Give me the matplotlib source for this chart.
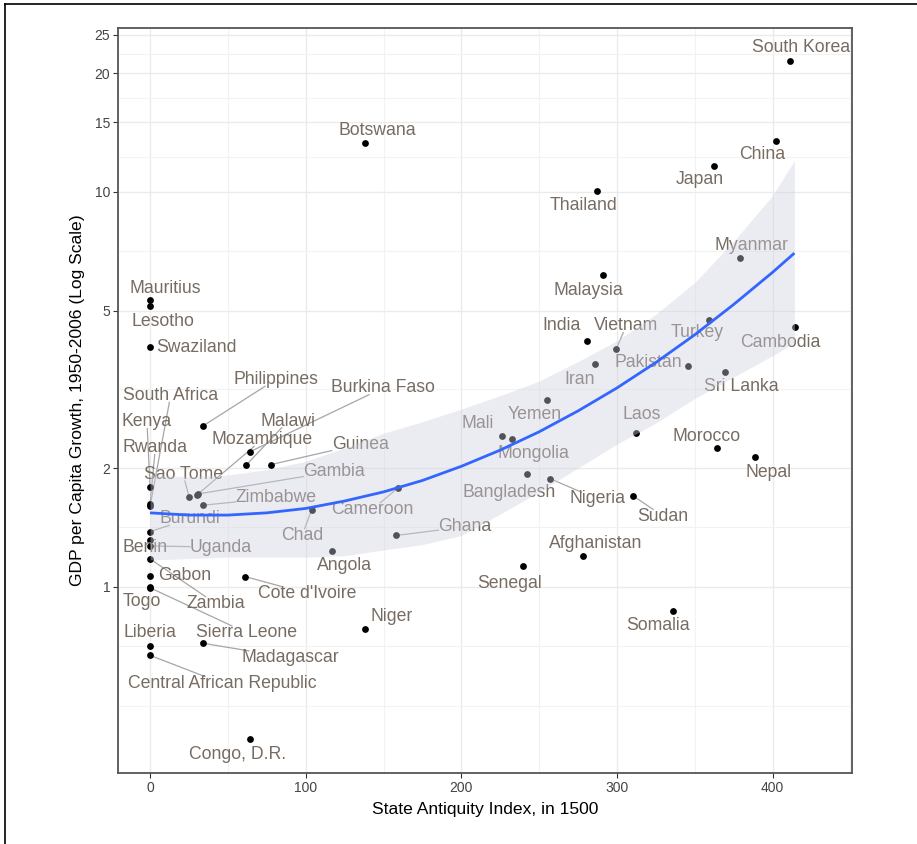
import matplotlib
matplotlib.use("Agg")
import matplotlib.pyplot as plt
from matplotlib.lines import Line2D

# State antiquity vs growth, one row per country
COUNTRIES = [
    "South Korea", "China", "Japan", "Thailand", "Botswana", "Myanmar", "Malaysia",
    "Mauritius", "Lesotho", "Swaziland", "India", "Vietnam", "Turkey", "Cambodia",
    "Iran", "Pakistan", "Sri Lanka", "Yemen", "Laos", "Mali", "Mongolia", "Morocco",
    "Nepal", "Bangladesh", "Nigeria", "Sudan", "Cameroon", "Ghana", "Chad", "Angola",
    "Afghanistan", "Senegal", "Somalia", "Niger", "Congo, D.R.", "Cote d'Ivoire",
    "Madagascar", "Sierra Leone", "Liberia", "Central African Republic", "Togo",
    "Zambia", "Gabon", "Benin", "Uganda", "Burundi", "Kenya", "Rwanda", "South Africa",
    "Sao Tome", "Zimbabwe", "Gambia", "Guinea", "Mozambique", "Malawi", "Burkina Faso",
    "Philippines",
]
SAI = [
    411.3, 402.3, 362.5, 287.3, 138.2, 379.2, 291.1,
    0.0, 0.0, 0.0, 280.8, 299.5, 359.3, 414.5,
    286.0, 345.8, 369.5, 255.1, 312.3, 226.0, 232.5, 364.4,
    388.8, 242.3, 256.9, 310.4, 159.2, 158.3, 103.9, 116.8,
    278.3, 239.9, 335.9, 138.2, 64.5, 61.2,
    34.1, 0.0, 0.0, 0.0, 0.0,
    0.0, 0.0, 0.0, 0.0, 0.0, 0.0, 0.0, 0.0,
    25.1, 33.9, 31.0, 77.6, 30.2, 61.5, 64.3,
    34.3,
]
GROWTH = [
    21.5, 13.46, 11.64, 10.06, 13.3, 6.81, 6.16,
    5.33, 5.14, 4.06, 4.20, 4.00, 4.74, 4.55,
    3.67, 3.63, 3.50, 2.97, 2.45, 2.41, 2.37, 2.25,
    2.13, 1.93, 1.88, 1.70, 1.78, 1.35, 1.57, 1.23,
    1.20, 1.13, 0.871, 0.783, 0.412, 1.062,
    0.720, 0.995, 0.710, 0.671, 1.00,
    1.177, 1.066, 1.315, 1.27, 1.38, 1.79, 1.62, 1.60,
    1.69, 1.61, 1.72, 2.04, 1.71, 2.03, 2.20,
    2.56,
]
LABEL_X = [
    418.4, 393.3, 353.5, 278.3, 145.9, 386.2, 281.5,
    9.6, 8.5, 30.0, 264.1, 305.9, 351.5, 404.9,
    276.3, 320.1, 379.8, 247.4, 315.6, 210.8, 246.1, 357.3,
    397.2, 230.7, 287.3, 329.7, 142.7, 202.4, 97.7, 124.7,
    286.6, 230.7, 326.5, 154.9, 55.9, 100.7,
    89.9, 61.9, -0.4, 46.6, -5.1,
    42.1, 22.2, -3.2, 45.6, 25.5, -2.0, 3.4, 13.2,
    21.2, 80.9, 118.4, 135.0, 72.0, 88.7, 149.8,
    80.7,
]
LABEL_Y = [
    23.15, 12.41, 10.72, 9.22, 14.27, 7.30, 5.62,
    5.71, 4.69, 4.03, 4.58, 4.58, 4.40, 4.15,
    3.36, 3.71, 3.21, 2.74, 2.74, 2.60, 2.18, 2.41,
    1.95, 1.73, 1.67, 1.51, 1.57, 1.42, 1.35, 1.13,
    1.29, 1.02, 0.80, 0.84, 0.376, 0.963,
    0.662, 0.766, 0.766, 0.570, 0.921,
    0.908, 1.07, 1.26, 1.26, 1.49, 2.62, 2.25, 3.05,
    1.93, 1.68, 1.96, 2.30, 2.36, 2.63, 3.19,
    3.35,
]
# labels that get a leader line back to their point
LEADER = {
    "Philippines", "Burkina Faso", "Malawi", "Mozambique", "Guinea", "Gambia",
    "Zimbabwe", "Sao Tome", "Burundi", "Uganda", "Kenya", "Rwanda", "South Africa",
    "Chad", "Cameroon", "Ghana", "Nigeria", "Sudan", "Vietnam", "Cote d'Ivoire",
    "Madagascar", "Sierra Leone", "Zambia", "Central African Republic",
}

# smoothed trend and its confidence band
FIT_X = [0, 25, 50, 75, 100, 125, 150, 175, 200, 225, 250, 275, 300, 325, 350, 375, 400, 414]
FIT_MID = [1.54, 1.52, 1.52, 1.54, 1.58, 1.65, 1.74, 1.86, 2.02, 2.22, 2.47, 2.79, 3.19,
           3.70, 4.35, 5.19, 6.26, 7.00]
FIT_HI = [1.92, 1.90, 1.92, 1.98, 2.08, 2.25, 2.45, 2.62, 2.82, 3.05, 3.32, 3.72, 4.20,
          4.90, 5.90, 7.50, 9.80, 12.0]
FIT_LO = [1.17, 1.18, 1.19, 1.19, 1.19, 1.20, 1.24, 1.28, 1.35, 1.53, 1.74, 2.00, 2.30,
          2.60, 3.00, 3.40, 3.85, 4.15]

X_TICKS = [0, 100, 200, 300, 400]
X_MINOR = [-50, 50, 150, 250, 350, 450]
Y_TICKS = [1, 2, 5, 10, 15, 20, 25]
Y_MINOR = [0.5, 0.7071, 1.4142, 3.1623, 7.0711, 12.247, 17.321, 22.361]

FONT = ["Liberation Sans", "DejaVu Sans"]
LABEL_COLOR = "#776c62"

fig = plt.figure(figsize=(9.17, 8.44), dpi=100)
ax = fig.add_axes([118 / 917, 1 - 773 / 844, (852 - 118) / 917, (773 - 28) / 844])
ax.set_yscale("log")
ax.set_xlim(-20.6, 451)
ax.set_ylim(0.338, 26.0)

for v in X_TICKS:
    ax.axvline(v, color="#ebebeb", lw=1.0, zorder=0)
for v in X_MINOR:
    ax.axvline(v, color="#f2f2f2", lw=0.8, zorder=0)
for v in Y_TICKS:
    ax.axhline(v, color="#ebebeb", lw=1.0, zorder=0)
for v in Y_MINOR:
    ax.axhline(v, color="#f2f2f2", lw=0.8, zorder=0)

ax.scatter(SAI, GROWTH, s=24, color="black", zorder=3, linewidths=0)

texts = []
for name, lx, ly in zip(COUNTRIES, LABEL_X, LABEL_Y):
    t = ax.text(lx, ly, name, ha="center", va="center", fontsize=12.7,
                color=LABEL_COLOR, family=FONT, zorder=3)
    texts.append(t)

ax.fill_between(FIT_X, FIT_LO, FIT_HI, color=(0.81, 0.81, 0.88), alpha=0.4,
                linewidth=0, zorder=4)
ax.plot(FIT_X, FIT_MID, color="#3366ff", lw=2.0, zorder=5, solid_capstyle="butt")

ax.set_xticks(X_TICKS)
ax.set_yticks(Y_TICKS)
ax.set_yticklabels([str(v) for v in Y_TICKS])
ax.minorticks_off()
ax.tick_params(axis="both", length=3.5, width=0.8, color="#333333",
               labelcolor="#444444", labelsize=10, pad=2)
for lab in ax.get_xticklabels() + ax.get_yticklabels():
    lab.set_family(FONT)
for sp in ax.spines.values():
    sp.set_color("#555555")
    sp.set_linewidth(1.3)

ax.set_xlabel("State Antiquity Index, in 1500", fontsize=12.6, family=FONT,
              color="black", labelpad=5)
ax.set_ylabel("GDP per Capita Growth, 1950-2006 (Log Scale)", fontsize=12.6,
              family=FONT, color="black", labelpad=7)

# leader lines: from each point toward its label centre, stopped at the label box
fig.canvas.draw()
renderer = fig.canvas.get_renderer()
inv = ax.transData.inverted()
for name, t, px, py in zip(COUNTRIES, texts, SAI, GROWTH):
    if name not in LEADER:
        continue
    bb = t.get_window_extent(renderer).expanded(1.0, 0.8)
    x0, y0 = ax.transData.transform((px, py))
    cx, cy = (bb.x0 + bb.x1) / 2, (bb.y0 + bb.y1) / 2
    dx, dy = cx - x0, cy - y0
    ts = []
    if dx != 0:
        ts += [(bb.x0 - x0) / dx, (bb.x1 - x0) / dx]
    if dy != 0:
        ts += [(bb.y0 - y0) / dy, (bb.y1 - y0) / dy]
    hit = None
    for tt in sorted(ts):
        if 0 <= tt <= 1:
            hx, hy = x0 + tt * dx, y0 + tt * dy
            if bb.x0 - 0.5 <= hx <= bb.x1 + 0.5 and bb.y0 - 0.5 <= hy <= bb.y1 + 0.5:
                hit = (hx, hy)
                break
    if hit is None:
        continue
    (dx0, dy0), (dx1, dy1) = inv.transform([(x0, y0), hit])
    ax.plot([dx0, dx1], [dy0, dy1], color="#a6a6a6", lw=0.9, zorder=2)

# outer frame of the original figure (left and top edges only)
fig.add_artist(Line2D([5 / 917, 5 / 917], [0, 1 - 4 / 844], transform=fig.transFigure,
                      color="black", lw=1.2))
fig.add_artist(Line2D([5 / 917, 1], [1 - 4 / 844, 1 - 4 / 844], transform=fig.transFigure,
                      color="black", lw=1.2))

fig.savefig("out.png", dpi=100)
